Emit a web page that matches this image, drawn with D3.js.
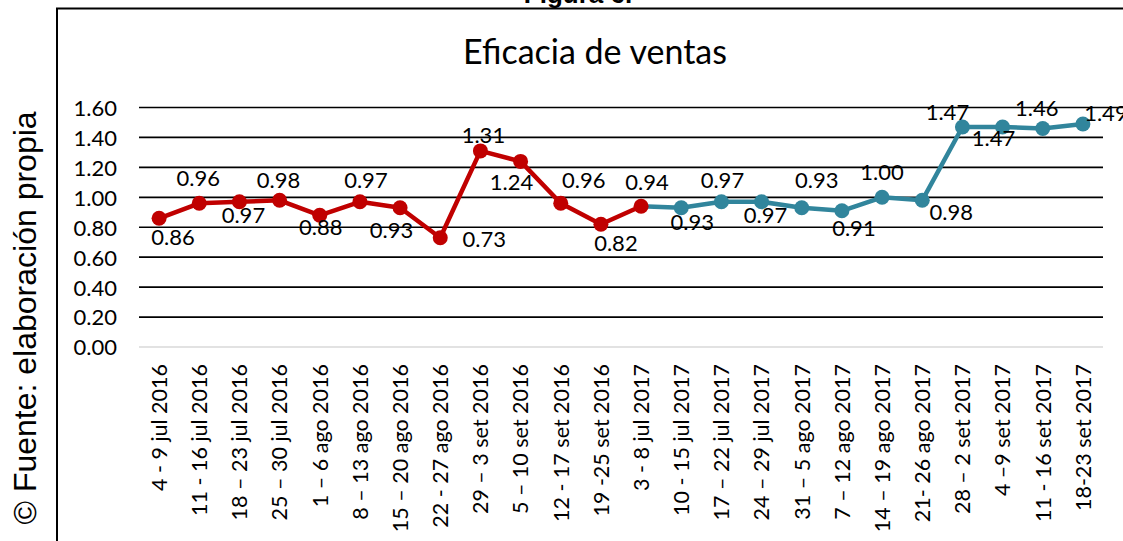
<!DOCTYPE html>
<html><head><meta charset="utf-8">
<script src="https://cdn.jsdelivr.net/npm/d3@7"></script>
<style>body{margin:0;background:#fff}svg{display:block}</style>
</head><body>
<svg id="chart" width="1123" height="541"></svg>
<script>
const categories = [
  "4 - 9 jul 2016","11 - 16 jul 2016","18 – 23 jul 2016","25 – 30 jul 2016",
  "1 – 6 ago 2016","8 – 13 ago 2016","15 – 20 ago 2016","22 - 27 ago 2016",
  "29 – 3 set 2016","5 – 10 set 2016","12 - 17 set 2016","19 -25 set 2016",
  "3 - 8 jul 2017","10 - 15 jul 2017","17 – 22 jul 2017","24 – 29 jul 2017",
  "31 – 5 ago 2017","7 – 12 ago 2017","14 – 19 ago 2017","21- 26 ago 2017",
  "28 – 2 set 2017","4 –9 set 2017","11 - 16 set 2017","18-23 set 2017"
];
// first period (red): indices 0..12
const values2016 = [0.86,0.96,0.97,0.98,0.88,0.97,0.93,0.73,1.31,1.24,0.96,0.82,0.94];
// second period (blue): indices 12..23 (joins the last red point)
const values2017 = [0.94,0.93,0.97,0.97,0.93,0.91,1.00,0.98,1.47,1.47,1.46,1.49];
const start2017 = 12;
const yTicks = [0,0.2,0.4,0.6,0.8,1.0,1.2,1.4,1.6];
const chartTitle = "Eficacia de ventas";
const figureTitle = "Figura 6.";
const sourceNote = "© Fuente: elaboración propia";

// label placement offsets (pixels from the point to the label centre)
const labelOffsets = [
  [14,19],[-1,-25],[4,13.5],[-1,-20],[1,12],[6,-21.5],[-8.5,22.5],[44,1.5],
  [3,-15.5],[-9,21],[23,-23],[15,19],[6,-24],[11,14.5],[1,-21.5],[4,13.5],
  [15,-27.5],[12,17.5],[0,-25],[29,12],[-15,-14.5],[-9,11.5],[-6,-20],[23,-10.5]
];

const RED = "#C00000", BLUE = "#31859C";
const FONT = "Lato, 'Open Sans', sans-serif";
const svg = d3.select("#chart");

const x = d3.scaleBand().domain(categories).range([139, 1103]).paddingInner(0).paddingOuter(0);
const y = d3.scaleLinear().domain([0, 1.6]).range([347, 107.5]);
const cx = c => x(c) + x.bandwidth() / 2;

// frame lines
svg.append("line").attr("x1",57).attr("x2",57).attr("y1",8.5).attr("y2",541)
  .attr("stroke","#000").attr("stroke-width",2);
svg.append("line").attr("x1",56).attr("x2",1123).attr("y1",8.5).attr("y2",8.5)
  .attr("stroke","#000").attr("stroke-width",2);

// figure title (cut off at the top, as in the source)
svg.append("text").attr("x",578).attr("y",3).attr("text-anchor","middle")
  .attr("font-family","'Liberation Sans', Arial, sans-serif").attr("font-weight","bold")
  .attr("font-size",26).attr("fill","#000").text(figureTitle);

// source note
svg.append("text").attr("transform","translate(36,318) rotate(-90)")
  .attr("text-anchor","middle").attr("font-family","'Liberation Sans', Arial, sans-serif")
  .attr("font-size",32).attr("fill","#000").text(sourceNote);

// chart title
svg.append("text").attr("x",595).attr("y",64).attr("text-anchor","middle")
  .attr("font-family",FONT).attr("font-size",34).attr("fill","#000").text(chartTitle);

// gridlines
svg.append("g").selectAll("line").data(yTicks).join("line")
  .attr("x1",139).attr("x2",d => d === 1.6 ? 1123 : 1103)
  .attr("y1",d => y(d)).attr("y2",d => y(d))
  .attr("stroke",d => d === 0 ? "#d9d9d9" : "#000").attr("stroke-width",1.7);

// y axis labels
const yAxis = d3.axisLeft(y).tickValues(yTicks).tickFormat(d3.format(".2f")).tickSize(0).tickPadding(0);
const gy = svg.append("g").attr("transform","translate(117,0)").call(yAxis);
gy.select(".domain").remove();
gy.selectAll("text").attr("font-family",FONT).attr("font-size",22).attr("fill","#000").attr("dy","0.36em");

// x axis labels
const xAxis = d3.axisBottom(x).tickSize(0).tickPadding(0);
const gx = svg.append("g").attr("transform","translate(0,364)").call(xAxis);
gx.select(".domain").remove();
gx.selectAll("text").attr("font-family",FONT).attr("font-size",21.5).attr("fill","#000")
  .attr("transform","rotate(-90)").attr("text-anchor","end")
  .attr("x",0).attr("y",0).attr("dy","0.36em");

const line = d3.line().x(d => cx(d.c)).y(d => y(d.v));
const pts2016 = values2016.map((v,i) => ({c: categories[i], v, i}));
const pts2017 = values2017.map((v,i) => ({c: categories[start2017 + i], v, i: start2017 + i}));

// blue series
svg.append("path").datum(pts2017).attr("d",line).attr("fill","none")
  .attr("stroke",BLUE).attr("stroke-width",4.5).attr("stroke-linejoin","round");
svg.append("g").selectAll("circle").data(pts2017.slice(1)).join("circle")
  .attr("cx",d => cx(d.c)).attr("cy",d => y(d.v)).attr("r",7.5).attr("fill",BLUE);

// red series
svg.append("path").datum(pts2016).attr("d",line).attr("fill","none")
  .attr("stroke",RED).attr("stroke-width",4.5).attr("stroke-linejoin","round");
svg.append("g").selectAll("circle").data(pts2016).join("circle")
  .attr("cx",d => cx(d.c)).attr("cy",d => y(d.v)).attr("r",7.5).attr("fill",RED);

// data labels
const allPts = pts2016.concat(pts2017.slice(1));
svg.append("g").selectAll("text").data(allPts).join("text")
  .attr("x",d => cx(d.c) + labelOffsets[d.i][0])
  .attr("y",d => y(d.v) + labelOffsets[d.i][1])
  .attr("dy","0.36em").attr("text-anchor","middle")
  .attr("font-family",FONT).attr("font-size",22).attr("fill","#000")
  .text(d => d3.format(".2f")(d.v));
</script>
</body></html>
